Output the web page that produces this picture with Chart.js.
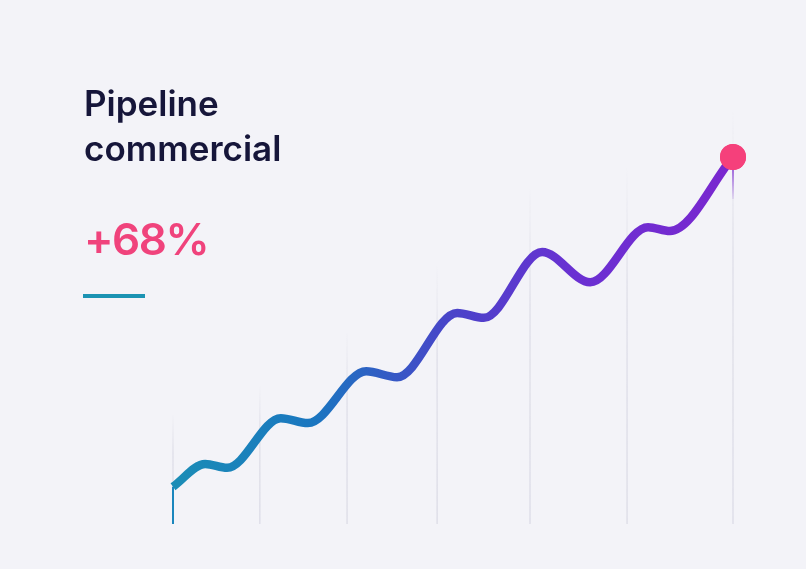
<!DOCTYPE html>
<html>
<head>
<meta charset="utf-8">
<script src="https://cdn.jsdelivr.net/npm/chart.js@4.4.1/dist/chart.umd.min.js"></script>
<style>
  html, body { margin: 0; padding: 0; background: #f3f3f8; }
  body { width: 806px; height: 569px; position: relative; overflow: hidden; font-family: Inter, "Noto Sans", sans-serif; }
  #chart { position: absolute; left: 0; top: 0; }
  .title { position: absolute; left: 84px; top: 81px; font-size: 35px; line-height: 45px; font-weight: 600; color: #16163a; letter-spacing: 0; }
  .delta { position: absolute; left: 84px; top: 217px; font-size: 44px; line-height: 44px; font-weight: 600; color: #f0437c; letter-spacing: -1.5px; }
  .rule { position: absolute; left: 83px; top: 294px; width: 62px; height: 3.5px; background: #1b93b3; }
</style>
</head>
<body>
<canvas id="chart" width="806" height="569"></canvas>
<div class="title">Pipeline<br>commercial</div>
<div class="delta">+68%</div>
<div class="rule"></div>
<script>
// months since start / growth in %
const months = [0, 0.69, 1.16, 2.31, 2.89, 4.14, 4.8, 6.09, 6.66, 7.91, 8.94, 10.18, 10.65, 12];
const growth = [6.9, 11.1, 10.4, 19.6, 18.7, 28.3, 27.2, 39.1, 38.2, 50.4, 44.8, 55.0, 54.3, 68];

// vertical guide lines (position + how high they reach)
const gridMonths = [0, 1.86, 3.73, 5.66, 7.65, 9.73, 12];
const gridTops = [20.2, 25.8, 35.9, 48, 62.8, 66.5, 76.7];

const guideLines = {
    id: 'guideLines',
    beforeDatasetsDraw(chart) {
        const { ctx, scales: { x, y } } = chart;
        const bottom = y.getPixelForValue(0);
        ctx.save();
        gridMonths.forEach((m, i) => {
            const px = x.getPixelForValue(m);
            const top = y.getPixelForValue(gridTops[i]);
            const g = ctx.createLinearGradient(0, top, 0, bottom);
            g.addColorStop(0, 'rgba(214,214,226,0)');
            g.addColorStop(0.35, 'rgba(214,214,226,0.6)');
            g.addColorStop(1, 'rgba(214,214,226,0.7)');
            ctx.strokeStyle = g;
            ctx.lineWidth = 1.5;
            ctx.beginPath();
            ctx.moveTo(px, top);
            ctx.lineTo(px, bottom);
            ctx.stroke();
        });
        ctx.restore();
    },
    afterDatasetsDraw(chart) {
        // little drop lines under first and last point
        const { ctx, scales: { x, y } } = chart;
        const meta = chart.getDatasetMeta(0);
        const first = meta.data[0];
        const last = meta.data[meta.data.length - 1];
        ctx.save();
        ctx.lineWidth = 2;
        ctx.strokeStyle = '#1a86bd';
        ctx.beginPath();
        ctx.moveTo(first.x, first.y);
        ctx.lineTo(first.x, y.getPixelForValue(0));
        ctx.stroke();
        const g = ctx.createLinearGradient(0, last.y, 0, last.y + 42);
        g.addColorStop(0, 'rgba(122,40,208,0.9)');
        g.addColorStop(1, 'rgba(122,40,208,0.1)');
        ctx.strokeStyle = g;
        ctx.beginPath();
        ctx.moveTo(last.x, last.y);
        ctx.lineTo(last.x, last.y + 42);
        ctx.stroke();
        ctx.restore();
        // redraw the end dot on top
        last.draw(ctx);
    }
};

function lineGradient(context) {
    const { ctx, chartArea } = context.chart;
    if (!chartArea) return '#4b3fc9';
    const g = ctx.createLinearGradient(chartArea.left, 0, chartArea.right, 0);
    g.addColorStop(0, '#1b8db6');
    g.addColorStop(0.25, '#1a76c0');
    g.addColorStop(0.5, '#4a43c9');
    g.addColorStop(0.72, '#6a30d2');
    g.addColorStop(1, '#7a27cf');
    return g;
}

new Chart(document.getElementById('chart'), {
    type: 'line',
    data: {
        datasets: [{
            data: months.map((m, i) => ({ x: m, y: growth[i] })),
            borderColor: lineGradient,
            borderWidth: 8.5,
            cubicInterpolationMode: 'monotone',
            fill: false,
            pointRadius: ctx => ctx.dataIndex === months.length - 1 ? 13 : 0,
            pointBackgroundColor: '#f5407b',
            pointBorderWidth: 0,
            clip: false
        }]
    },
    options: {
        responsive: false,
        animation: false,
        layout: { padding: { left: 173, right: 73, top: 157, bottom: 45 } },
        plugins: { legend: { display: false }, tooltip: { enabled: false } },
        scales: {
            x: { type: 'linear', min: 0, max: 12, display: false },
            y: { min: 0, max: 68, display: false }
        }
    },
    plugins: [guideLines]
});
</script>
</body>
</html>
